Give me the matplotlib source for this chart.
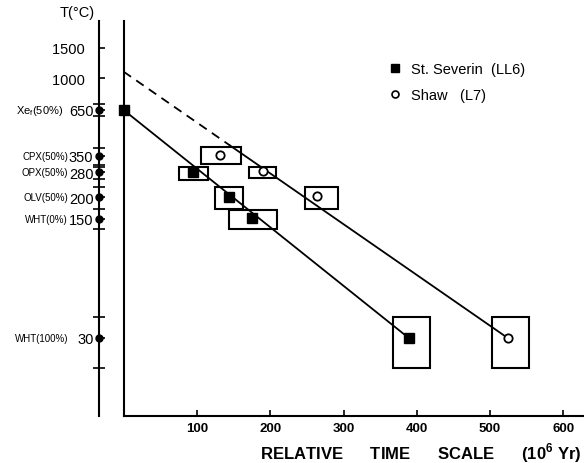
import matplotlib
matplotlib.use("Agg")
import matplotlib.pyplot as plt
import matplotlib.transforms as mtransforms
from matplotlib.patches import Rectangle
from matplotlib.lines import Line2D
from matplotlib.ticker import FixedLocator, FixedFormatter, NullFormatter

plt.rcParams['font.family'] = ['Liberation Sans', 'DejaVu Sans']

# ---------------- data ----------------
sev_time = [0, 95, 144, 175, 389]
sev_T = [650, 280, 200, 151, 30]
shaw_time = [132, 190, 264, 524]
shaw_T = [354, 286, 204, 30]

sev_box_t = [(75, 115), (125, 163), (144, 209), (367, 418)]
sev_box_T = [(254, 300), (171, 231), (130, 169), (20, 40)]
shaw_box_t = [(105, 160), (171, 208), (247, 293), (502, 553)]
shaw_box_T = [(313, 393), (259, 302), (171, 231), (20, 40)]

sev_fit_time = [0, 389]
sev_fit_T = [650, 30]
shaw_dash_time = [0, 145]
shaw_dash_T = [1090, 403]
shaw_solid_time = [145, 524]
shaw_solid_T = [403, 30]

scale_plain_T = [1500, 1000]
scale_T = [650, 350, 280, 200, 150, 30]
scale_prefix = ["Xe$_\\mathregular{f}$(50%)", "CPX(50%)", "OPX(50%)",
                "OLV(50%)", "WHT(0%)", "WHT(100%)"]
scale_bracket_T = [700, 600, 390, 310, 300, 255, 230, 170, 130, 40, 20]

x_ticks = [100, 200, 300, 400, 500, 600]

# ---------------- layout ----------------
W, H = 584, 464
fig = plt.figure(figsize=(W / 100, H / 100), dpi=100)

def fx(px):
    return px / W

def fy(py):
    return 1 - py / H

x0_px, top_px, bot_px = 123.6, 22, 417
px_per_unit = 0.733
ylo, yhi = 10.47, 2159

ax = fig.add_axes([fx(x0_px), fy(bot_px), (W - x0_px) / W, (bot_px - top_px) / H])
ax.set_yscale('log')
ax.set_ylim(ylo, yhi)
ax.set_xlim(0, (W - x0_px) / px_per_unit)
for s in ['top', 'right']:
    ax.spines[s].set_visible(False)
for s in ['left', 'bottom']:
    ax.spines[s].set_linewidth(1.5)
ax.tick_params(axis='y', which='both', left=False, labelleft=False)
ax.set_xticks(x_ticks)
ax.set_xticklabels([str(v) for v in x_ticks], fontweight='bold', fontsize=9.5)
ax.tick_params(axis='x', which='major', direction='in', length=4, width=1.2, pad=4)
ax.tick_params(axis='x', which='minor', bottom=False)

# boxes
for (t0, t1), (T0, T1) in zip(sev_box_t + shaw_box_t, sev_box_T + shaw_box_T):
    ax.add_patch(Rectangle((t0, T0), t1 - t0, T1 - T0, fill=False,
                           edgecolor='black', linewidth=1.5, zorder=2))

# fit lines
ax.plot(sev_fit_time, sev_fit_T, color='black', lw=1.3, zorder=3)
ax.plot(shaw_dash_time, shaw_dash_T, color='black', lw=1.3, ls=(0, (5, 3.5)), zorder=3)
ax.plot(shaw_solid_time, shaw_solid_T, color='black', lw=1.3, zorder=3)

# points
ax.plot(sev_time, sev_T, ls='none', marker='s', ms=7, color='black', zorder=5,
        clip_on=False)
ax.plot(shaw_time, shaw_T, ls='none', marker='o', ms=6, mfc='white', mec='black',
        mew=1.3, zorder=5, clip_on=False)

# legend
handles = [Line2D([], [], ls='none', marker='s', ms=6, color='black'),
           Line2D([], [], ls='none', marker='o', ms=5, mfc='white', mec='black', mew=1.2)]
ax.legend(handles, ["St. Severin  (LL6)", "Shaw   (L7)"], loc='upper left',
          bbox_to_anchor=(fx(389), fy(63)), bbox_transform=fig.transFigure,
          frameon=False, fontsize=10.5, handlelength=0.8, handletextpad=0.7,
          labelspacing=0.85, borderaxespad=0, borderpad=0)

# ---------------- temperature scale ----------------
sax = fig.add_axes([fx(99), fy(bot_px), 1 / W, (bot_px - top_px) / H])
sax.set_yscale('log')
sax.set_ylim(ylo, yhi)
sax.set_xlim(0, 1)
for s in ['top', 'right', 'bottom']:
    sax.spines[s].set_visible(False)
sax.spines['left'].set_linewidth(1.5)
sax.set_xticks([])
major_vals = scale_plain_T + scale_T
major_labels = [str(v) + "  " for v in scale_plain_T] + [str(v) for v in scale_T]
sax.yaxis.set_major_locator(FixedLocator(major_vals))
sax.yaxis.set_major_formatter(FixedFormatter(major_labels))
sax.yaxis.set_minor_locator(FixedLocator(scale_bracket_T))
sax.yaxis.set_minor_formatter(NullFormatter())
sax.tick_params(axis='y', which='major', direction='in', length=4, width=1.2,
                pad=4, labelsize=10.5)
sax.tick_params(axis='y', which='minor', direction='inout', length=8, width=1.2)
sax.patch.set_visible(False)
sax.plot([0] * len(scale_T), scale_T, ls='none', marker='o', ms=5, color='black',
         clip_on=False, zorder=5)

trans = mtransforms.blended_transform_factory(fig.transFigure, sax.transData)
for T, lab in zip(scale_T, scale_prefix):
    if lab.startswith("Xe"):
        sax.text(fx(63), T, lab, transform=trans, ha='right', va='center', fontsize=8)
    else:
        sax.text(fx(68), T, lab, transform=trans, ha='right', va='center', fontsize=7)

fig.text(fx(77), fy(13), "T(°C)", ha='center', va='center', fontsize=10.5)
fig.text(fx(582), fy(453), "RELATIVE      TIME      SCALE      (10$^\\mathregular{6}$ Yr)",
         ha='right', va='center', fontsize=12, fontweight='bold')

fig.savefig("out.png", dpi=100)
